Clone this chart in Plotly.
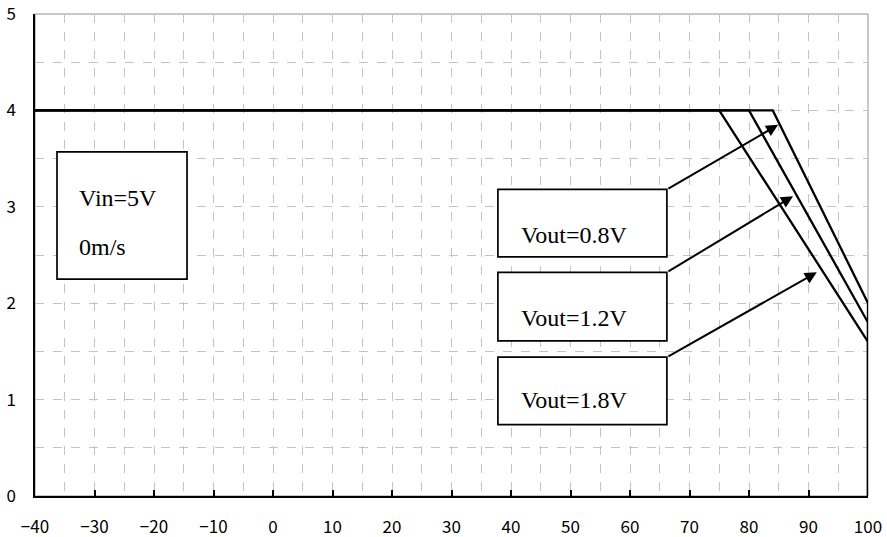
import plotly.graph_objects as go

# Data
x_start = -40
x_end = 100
y_flat = 4.0
break_x = [84, 80, 75]          # where each curve leaves the 4 V plateau
end_y = [2.0, 1.8, 1.6]         # value at x = 100
series_names = ["Vout=0.8V", "Vout=1.2V", "Vout=1.8V"]
arrow_head_x = [84.9, 87.4, 91.4]
arrow_head_y = [3.85, 3.11, 2.32]
x_ticks = [-40, -30, -20, -10, 0, 10, 20, 30, 40, 50, 60, 70, 80, 90, 100]
y_ticks = [0, 1, 2, 3, 4, 5]
info_lines = ["Vin=5V", "0m/s"]

fig = go.Figure()

for bx, ey, name in zip(break_x, end_y, series_names):
    fig.add_trace(go.Scatter(
        x=[x_start, bx, x_end, x_end],
        y=[y_flat, y_flat, ey, 0],
        mode="lines",
        line=dict(color="black", width=2.3),
        name=name,
        showlegend=False,
        hoverinfo="skip",
    ))

serif = "Liberation Serif, Times New Roman, serif"
txt_size = 24

# Info box
fig.add_shape(type="rect", xref="x", yref="y", x0=-36.3, x1=-14.45, y0=2.25, y1=3.57,
              line=dict(color="black", width=1.7), fillcolor="white", layer="above")
fig.add_annotation(x=-33.0, y=3.09, xref="x", yref="y", text=info_lines[0], showarrow=False,
                   xanchor="left", yanchor="middle", font=dict(family=serif, size=txt_size, color="black"))
fig.add_annotation(x=-33.0, y=2.58, xref="x", yref="y", text=info_lines[1], showarrow=False,
                   xanchor="left", yanchor="middle", font=dict(family=serif, size=txt_size, color="black"))

# Label boxes with arrows
box_y = [(2.48, 3.18), (1.61, 2.32), (0.74, 1.44)]
text_y = [2.71, 1.85, 1.00]
for i, name in enumerate(series_names):
    y0, y1 = box_y[i]
    fig.add_shape(type="rect", xref="x", yref="y", x0=37.8, x1=66.2, y0=y0, y1=y1,
                  line=dict(color="black", width=1.7), fillcolor="white", layer="above")
    fig.add_annotation(x=41.4, y=text_y[i], xref="x", yref="y", text=name, showarrow=False,
                       xanchor="left", yanchor="middle", font=dict(family=serif, size=txt_size, color="black"))
    fig.add_annotation(x=arrow_head_x[i], y=arrow_head_y[i], xref="x", yref="y",
                       ax=66.2, ay=y1, axref="x", ayref="y", text="", showarrow=True,
                       arrowhead=2, arrowsize=1.2, arrowwidth=2, arrowcolor="black",
                       standoff=0, startstandoff=0)

tick_font = dict(family="Noto Sans CJK JP, Noto Sans, sans-serif", size=17, color="black")

fig.update_xaxes(
    range=[x_start, x_end], tickvals=x_ticks, ticktext=[str(v).replace("-", "\u2212") for v in x_ticks],
    showgrid=True, gridcolor="#c4c4c4", griddash="dash", gridwidth=1,
    minor=dict(dtick=5, tick0=0, showgrid=True, gridcolor="#c4c4c4", griddash="dash", gridwidth=1),
    showline=True, linecolor="black", linewidth=1.5, mirror=False,
    ticks="inside", ticklen=6, tickcolor="black", tickwidth=1.5,
    zeroline=False, tickfont=tick_font, ticklabelstandoff=15, automargin=False,
    ticklabeloverflow="allow",
)
fig.update_yaxes(
    range=[0, 5], tickvals=y_ticks,
    showgrid=True, gridcolor="#c4c4c4", griddash="dash", gridwidth=1,
    minor=dict(dtick=0.5, tick0=0, showgrid=True, gridcolor="#c4c4c4", griddash="dash", gridwidth=1),
    showline=True, linecolor="black", linewidth=1.5,
    ticks="", zeroline=False, tickfont=tick_font, ticklabelstandoff=14, automargin=False,
    ticklabeloverflow="allow",
)

# Plot frame (top & right in gray)
fig.add_shape(type="rect", xref="paper", yref="paper", x0=0, x1=1, y0=0, y1=1,
              line=dict(color="#909090", width=1), fillcolor="rgba(0,0,0,0)", layer="below")

fig.update_layout(
    width=887, height=537,
    margin=dict(l=35, r=19, t=14, b=41, autoexpand=False),
    plot_bgcolor="white", paper_bgcolor="white",
    showlegend=False,
)

fig.write_html("out.html")
